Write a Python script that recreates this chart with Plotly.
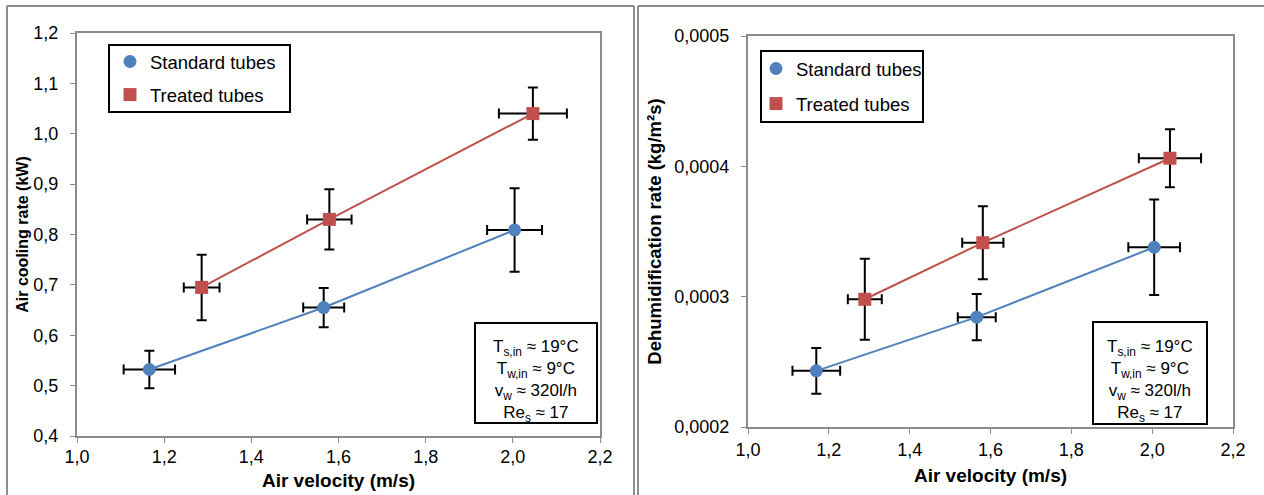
import plotly.graph_objects as go

# ---- data ----
std_v = [1.166, 1.566, 2.004]
std_q = [0.532, 0.655, 0.809]
std_v_err = [0.059, 0.047, 0.063]
std_q_err = [0.037, 0.039, 0.083]

trt_v = [1.286, 1.579, 2.046]
trt_q = [0.695, 0.830, 1.040]
trt_v_err = [0.041, 0.051, 0.078]
trt_q_err = [0.065, 0.060, 0.052]

std_v2 = [1.169, 1.566, 2.005]
std_m = [0.0002431, 0.0002843, 0.0003379]
std_v2_err = [0.059, 0.047, 0.064]
std_m_err = [0.0000175, 0.0000178, 0.0000366]

trt_v2 = [1.289, 1.581, 2.044]
trt_m = [0.0002980, 0.0003414, 0.0004062]
trt_v2_err = [0.042, 0.051, 0.077]
trt_m_err = [0.0000310, 0.0000280, 0.0000222]

names = ["Standard tubes", "Treated tubes"]
cond_text = ("T<sub>s,in</sub> ≈ 19°C<br>T<sub>w,in</sub> ≈ 9°C<br>"
             "v<sub>w</sub> ≈ 320l/h<br>Re<sub>s</sub> ≈ 17")

BLUE = "#4F81BD"
RED = "#C0504D"
W, H = 1264, 495
FONT = "Liberation Sans, Arial, sans-serif"

fig = go.Figure()


def add_series(x, y, ex, ey, color, symbol, name, xa, ya, legend):
    fig.add_trace(go.Scatter(x=x, y=y, mode="lines", line=dict(color=color, width=2),
                             showlegend=False, xaxis=xa, yaxis=ya, hoverinfo="skip"))
    fig.add_trace(go.Scatter(
        x=x, y=y, mode="markers", name=name, legend=legend, legendgroup=legend + name,
        marker=dict(color=color, size=13, symbol=symbol),
        error_x=dict(type="data", array=ex, color="black", thickness=2, width=5),
        error_y=dict(type="data", array=ey, color="black", thickness=2, width=5),
        xaxis=xa, yaxis=ya))


add_series(std_v, std_q, std_v_err, std_q_err, BLUE, "circle", names[0], "x", "y", "legend")
add_series(trt_v, trt_q, trt_v_err, trt_q_err, RED, "square", names[1], "x", "y", "legend")
add_series(std_v2, std_m, std_v2_err, std_m_err, BLUE, "circle", names[0], "x2", "y2", "legend2")
add_series(trt_v2, trt_m, trt_v2_err, trt_m_err, RED, "square", names[1], "x2", "y2", "legend2")

axis_common = dict(showline=True, linecolor="#8c8c8c", linewidth=2, mirror=True,
                   ticks="outside", tickcolor="#8c8c8c", ticklen=5, tickwidth=1,
                   showgrid=False, zeroline=False, automargin=False,
                   tickfont=dict(family=FONT, size=18, color="black"))


def tfont(size):
    return dict(family=FONT, size=size, color="black")


def px(x):
    return x / W


def py(y):
    return 1 - y / H


fig.update_layout(
    width=W, height=H, margin=dict(l=0, r=0, t=0, b=0),
    paper_bgcolor="white", plot_bgcolor="white", separators=",.",
    font=dict(family=FONT),
    xaxis=dict(domain=[px(77), px(600)], range=[1.0, 2.2], dtick=0.2, tickformat=".1f",
               title=dict(text="<b>Air velocity (m/s)</b>", font=tfont(19), standoff=8),
               ticklabelstandoff=-2, anchor="y", **axis_common),
    yaxis=dict(domain=[py(436), py(33)], range=[0.4, 1.2], dtick=0.1, tickformat=".1f",
               title=dict(text="<b>Air cooling rate (kW)</b>", font=tfont(16), standoff=1),
               ticklabelstandoff=8, anchor="x", **axis_common),
    xaxis2=dict(domain=[px(748), px(1233)], range=[1.0, 2.2], dtick=0.2, tickformat=".1f",
                title=dict(text="<b>Air velocity (m/s)</b>", font=tfont(19), standoff=10),
                ticklabelstandoff=0, anchor="y2", **axis_common),
    yaxis2=dict(domain=[py(427), py(36)], range=[0.0002, 0.0005], dtick=0.0001,
                tickformat=".4f",
                title=dict(text="<b>Dehumidification rate (kg/m²s)</b>", font=tfont(18.5),
                           standoff=8),
                ticklabelstandoff=8, anchor="x2", **axis_common),
    legend=dict(x=px(110), y=py(43), xanchor="left", yanchor="top",
                bgcolor="rgba(0,0,0,0)", borderwidth=0, tracegroupgap=6,
                font=tfont(18.5)),
    legend2=dict(x=px(756), y=py(50), xanchor="left", yanchor="top",
                 bgcolor="rgba(0,0,0,0)", borderwidth=0, tracegroupgap=8,
                 font=tfont(18.5)),
)

shapes = []
# panel frames
frame = dict(type="line", xref="paper", yref="paper", line=dict(color="#8c8c8c", width=2))
shapes.append(dict(frame, x0=px(7), x1=px(7), y0=py(6), y1=-0.1))
shapes.append(dict(frame, x0=px(7), x1=px(634), y0=py(6), y1=py(6)))
shapes.append(dict(frame, x0=px(634), x1=px(634), y0=py(6), y1=-0.1))
shapes.append(dict(frame, x0=px(638), x1=px(638), y0=py(6), y1=-0.1))
shapes.append(dict(frame, x0=px(638), x1=1.1, y0=py(6), y1=py(6)))
# legend boxes and condition boxes
box = dict(type="rect", xref="paper", yref="paper", line=dict(color="black", width=2),
           fillcolor="rgba(0,0,0,0)", layer="below")
shapes.append(dict(box, x0=px(109), x1=px(290), y0=py(112), y1=py(45)))
shapes.append(dict(box, x0=px(761), x1=px(923), y0=py(122), y1=py(51)))
shapes.append(dict(box, x0=px(475), x1=px(597), y0=py(423), y1=py(323), fillcolor="white",
                   layer="above"))
shapes.append(dict(box, x0=px(1093), x1=px(1207), y0=py(424), y1=py(322), fillcolor="white",
                   layer="above"))
fig.update_layout(shapes=shapes)

for cx in (536, 1150):
    fig.add_annotation(xref="paper", yref="paper", x=px(cx), y=py(380.5),
                       xanchor="center", yanchor="middle", text=cond_text, showarrow=False,
                       align="center",
                       font=dict(family=FONT, size=17, color="black"))

fig.write_html("out.html")
